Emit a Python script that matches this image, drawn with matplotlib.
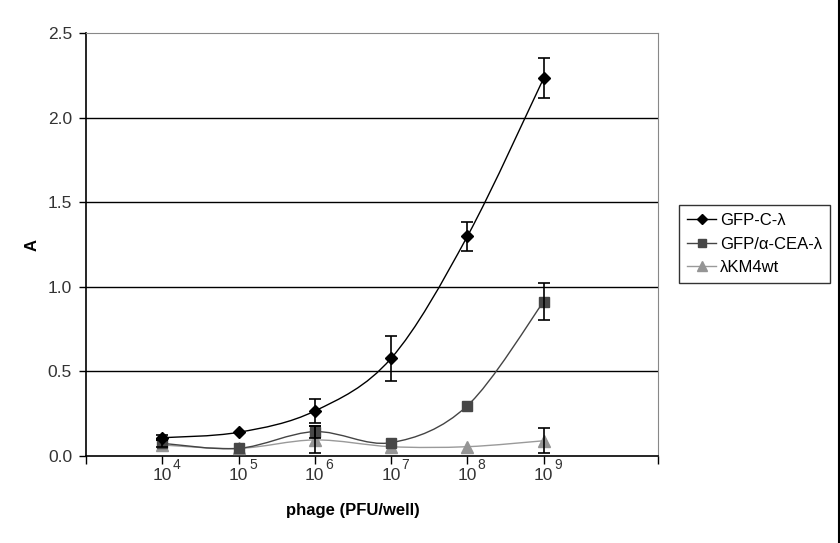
import matplotlib
matplotlib.use("Agg")
import matplotlib.pyplot as plt
from matplotlib.path import Path
from matplotlib.patches import PathPatch
from matplotlib.lines import Line2D
import numpy as np

plt.rcParams['font.family'] = ['Liberation Sans', 'DejaVu Sans']

exponents = [4, 5, 6, 7, 8, 9]
series_names = ["GFP-C-\u03bb", "GFP/\u03b1-CEA-\u03bb", "\u03bbKM4wt"]
gfp_c = [0.108, 0.140, 0.266, 0.577, 1.298, 2.232]
gfp_c_err = [0.015, 0.0, 0.070, 0.134, 0.087, 0.118]
gfp_cea = [0.075, 0.045, 0.144, 0.079, 0.297, 0.912]
gfp_cea_err = [0.02, 0.0, 0.035, 0.0, 0.0, 0.108]
km4wt = [0.065, 0.045, 0.095, 0.055, 0.055, 0.090]
km4wt_err = [0.0, 0.0, 0.080, 0.0, 0.0, 0.075]
yticks = [0.0, 0.5, 1.0, 1.5, 2.0, 2.5]

fig = plt.figure(figsize=(8.4, 5.43), dpi=100)
ax = fig.add_axes([86/840, 87/543, (658-86)/840, (456-33)/543])


def smooth_path(xs, ys):
    pts = np.column_stack([xs, ys]).astype(float)
    n = len(pts)
    verts = [pts[0]]
    codes = [Path.MOVETO]
    for i in range(n - 1):
        p0 = pts[i - 1] if i > 0 else pts[i]
        p1 = pts[i]
        p2 = pts[i + 1]
        p3 = pts[i + 2] if i + 2 < n else pts[i + 1]
        c1 = p1 + (p2 - p0) / 6.0
        c2 = p2 - (p3 - p1) / 6.0
        verts += [c1, c2, p2]
        codes += [Path.CURVE4] * 3
    return Path(verts, codes)


styles = [
    dict(lc="#000000", marker="D", ms=6, mc="#000000", lw=1.0),
    dict(lc="#444444", marker="s", ms=6.5, mc="#474747", lw=1.0),
    dict(lc="#9a9a9a", marker="^", ms=8, mc="#959595", lw=1.0),
]
datas = [(gfp_c, gfp_c_err), (gfp_cea, gfp_cea_err), (km4wt, km4wt_err)]

for z, ((vals, errs), st) in enumerate(zip(datas, styles)):
    path = smooth_path(exponents, vals)
    ax.add_patch(PathPatch(path, facecolor="none", edgecolor=st["lc"], lw=st["lw"], zorder=3 + (2 - z)))
    ax.plot(exponents, vals, linestyle="none", marker=st["marker"], ms=st["ms"],
            color=st["mc"], zorder=4 + (2 - z))

for (vals, errs), st in zip(datas, styles):
    xs = [x for x, e in zip(exponents, errs) if e > 0]
    ys = [v for v, e in zip(vals, errs) if e > 0]
    es = [e for e in errs if e > 0]
    ax.errorbar(xs, ys, yerr=es, fmt="none", ecolor="#000000", elinewidth=1.2,
                capsize=4, capthick=1.2, zorder=8)

ax.set_xlim(3, 10.5)
ax.set_ylim(0, 2.5)
ax.set_yticks(yticks)
ax.set_yticklabels([f"{v:.1f}" for v in yticks], fontsize=12.5)
for v in yticks[1:-1]:
    ax.axhline(v, color="#000000", lw=1.0, zorder=1)

ax.set_xticks([3] + exponents + [10.5])
ax.set_xticklabels([""] + ["10"] * len(exponents) + [""], fontsize=12.5)
for e in exponents:
    ax.annotate(str(e), xy=(e, 0), xycoords=("data", "axes fraction"),
                xytext=(7.5, -9.4), textcoords="offset points", fontsize=10,
                ha="left", va="baseline", color="#333333")

ax.tick_params(axis="x", direction="out", length=6, width=1, pad=3)
ax.tick_params(axis="y", direction="out", length=5, width=1, pad=5)
for lbl in ax.get_yticklabels() + ax.get_xticklabels():
    lbl.set_color("#333333")

ax.spines["left"].set_color("#000000")
ax.spines["bottom"].set_color("#000000")
ax.spines["top"].set_color("#888888")
ax.spines["right"].set_color("#888888")
ax.spines["left"].set_linewidth(1.2)
ax.spines["bottom"].set_linewidth(1.2)

fig.text(32/840, 1 - 245/543, "A", fontsize=12, fontweight="bold", rotation=90,
         ha="center", va="center")
fig.text(353/840, 1 - 511/543, "phage (PFU/well)", fontsize=12, fontweight="bold",
         ha="center", va="center")

handles = [Line2D([], [], color=st["lc"], marker=st["marker"], ms=st["ms"] - 1,
                  mfc=st["mc"], mec=st["mc"], lw=1.0) for st in styles]
leg = fig.legend(handles, series_names, loc="upper left",
                 bbox_to_anchor=(679/840, 1 - 205/543), fontsize=12,
                 frameon=True, fancybox=False, edgecolor="#000000",
                 handlelength=1.7, borderpad=0.5, labelspacing=0.5,
                 handletextpad=0.25, borderaxespad=0)
leg.get_frame().set_linewidth(1.0)

fig.add_artist(Line2D([838.5/840, 838.5/840], [0, 1], color="#000000", lw=1.5,
                      transform=fig.transFigure))

fig.savefig("out.png", dpi=100)
